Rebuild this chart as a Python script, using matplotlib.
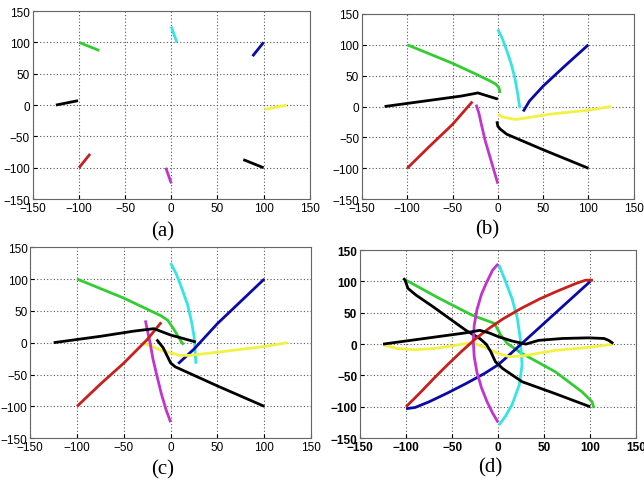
import matplotlib
matplotlib.use("Agg")
import matplotlib.pyplot as plt

# colours of the eight agents
colors = {
    "green": "#33cc33",
    "cyan": "#33e5e5",
    "blue": "#0a0aa8",
    "yellow": "#f2f244",
    "black2": "#000000",
    "magenta": "#c233d0",
    "red": "#c8201c",
    "black1": "#000000",
}

ticks = [-150, -100, -50, 0, 50, 100, 150]
panel_labels = ["(a)", "(b)", "(c)", "(d)"]

# (a) first few steps
traj_a = {
    "green": ([-100, -78], [100, 87]),
    "cyan": ([0, 6], [125, 100]),
    "blue": ([100, 88], [100, 78]),
    "yellow": ([125, 101], [0, -7]),
    "black2": ([100, 78], [-100, -87]),
    "magenta": ([0, -6], [-125, -100]),
    "red": ([-100, -88], [-100, -78]),
    "black1": ([-125, -101], [0, 7]),
}

# (b)
traj_b = {
    "green": ([-100, -75, -50, -25, -8, -2, 1, 2, 2], [100, 85, 70, 53, 41, 36, 31, 26, 22]),
    "cyan": ([0, 5, 10, 15, 19, 22, 24, 25], [125, 110, 90, 68, 45, 20, 0, -2]),
    "blue": ([100, 75, 50, 35, 28], [100, 67, 33, 9, -8]),
    "yellow": ([125, 100, 60, 20, 5, 0], [0, -6, -12, -21, -17, -12]),
    "black2": ([100, 50, 10, 3, 0, -1], [-100, -70, -45, -37, -32, -24]),
    "magenta": ([0, -4, -9, -14, -18, -21, -24], [-125, -105, -80, -55, -30, -10, 3]),
    "red": ([-100, -75, -50, -28], [-100, -64, -29, 8]),
    "black1": ([-125, -75, -40, -22, 0], [0, 10, 17, 22, 12]),
}

# (c)
traj_c = {
    "green": ([-100, -50, -10, -3, 3, 8, 12, 14], [100, 70, 42, 35, 22, 10, 0, -3]),
    "cyan": ([0, 6, 12, 18, 22, 25, 26, 27], [125, 108, 85, 60, 35, 10, -10, -33]),
    "blue": ([100, 75, 50, 25, 8], [100, 65, 30, -10, -33]),
    "yellow": ([125, 100, 50, 20, 10, -10, -30], [0, -6, -15, -20, -20, -12, 0]),
    "black2": ([100, 50, 5, 0, -8, -15], [-100, -68, -38, -32, -8, 5]),
    "magenta": ([0, -5, -10, -15, -19, -22, -25, -27], [-125, -105, -80, -50, -25, 0, 20, 35]),
    "red": ([-100, -75, -50, -25, -10], [-100, -65, -32, 5, 32]),
    "black1": ([-125, -75, -40, -18, 0, 27], [0, 10, 18, 22, 12, 1]),
}

# (d) complete paths
traj_d = {
    "green": ([-100, -64, -28, -4, 3, 10, 26, 62, 91, 102, 104],
              [102, 73, 46, 33, 14, 1, -15, -44, -76, -92, -102]),
    "cyan": ([1, 8, 15, 21, 24, 26, 23, 15, 8, 1],
             [126, 100, 73, 40, 9, -33, -65, -97, -115, -129]),
    "blue": ([100, 85, 70, 55, 40, 25, 10, 0, -15, -35, -55, -75, -90, -100],
             [100, 80, 60, 40, 20, 0, -20, -33, -47, -63, -78, -92, -101, -103]),
    "yellow": ([125, 100, 62, 26, 12, 0, -15, -25, -35, -50, -70, -90, -110, -125],
               [0, -5, -10, -19, -20, -15, -5, 1, 1, -3, -7, -9, -7, -1]),
    "black2": ([100, 62, 26, 5, -3, -8, -13, -20, -35, -53, -71, -89, -98, -101, -103],
               [-100, -79, -60, -39, -28, -12, 0, 9, 22, 41, 60, 78, 89, 102, 105]),
    "magenta": ([0, -6, -12, -18, -23, -26, -27, -26, -23, -18, -12, -6, 0],
                [128, 118, 100, 80, 55, 30, 5, -20, -45, -70, -92, -110, -125]),
    "red": ([-100, -85, -70, -55, -40, -25, -10, 5, 25, 45, 65, 85, 95, 103],
            [-100, -78, -55, -33, -12, 8, 25, 40, 57, 72, 85, 97, 102, 102]),
    "black1": ([-125, -100, -75, -50, -35, -20, -10, 0, 15, 30, 44, 70, 98, 115, 120, 125],
               [0, 5, 10, 15, 18, 22, 18, 12, 5, 0, 6, 9, 10, 9, 6, 1]),
}

positions = [
    [0.051, 0.584, 0.430, 0.391],
    [0.562, 0.584, 0.422, 0.385],
    [0.047, 0.087, 0.436, 0.397],
    [0.559, 0.087, 0.429, 0.391],
]
label_xy = [(163, 232), (487, 230), (163, 470), (490, 468)]

fig = plt.figure(figsize=(6.44, 4.81), dpi=100)
for i, traj in enumerate([traj_a, traj_b, traj_c, traj_d]):
    ax = fig.add_axes(positions[i])
    for name, (xs, ys) in traj.items():
        ax.plot(xs, ys, color=colors[name], linewidth=2, solid_capstyle="butt",
                solid_joinstyle="round")
    ax.set_xlim(-150, 150)
    ax.set_ylim(-150, 150)
    ax.set_xticks(ticks)
    ax.set_yticks(ticks)
    ax.grid(True, linestyle=(0, (1, 2)), color="#555555", linewidth=0.8)
    ax.tick_params(direction="in", length=3, pad=2, labelsize=8.5)
    weight = "bold" if i == 3 else "normal"
    for lab in ax.get_xticklabels() + ax.get_yticklabels():
        lab.set_fontfamily("Liberation Sans")
        lab.set_fontweight(weight)
    for sp in ax.spines.values():
        sp.set_color("#666666")
        sp.set_linewidth(0.8)
    lx, ly = label_xy[i]
    fig.text(lx / 644, 1 - ly / 481, panel_labels[i], ha="center", va="center",
             fontsize=15, family="Liberation Serif")

fig.savefig("out.png", dpi=100)
